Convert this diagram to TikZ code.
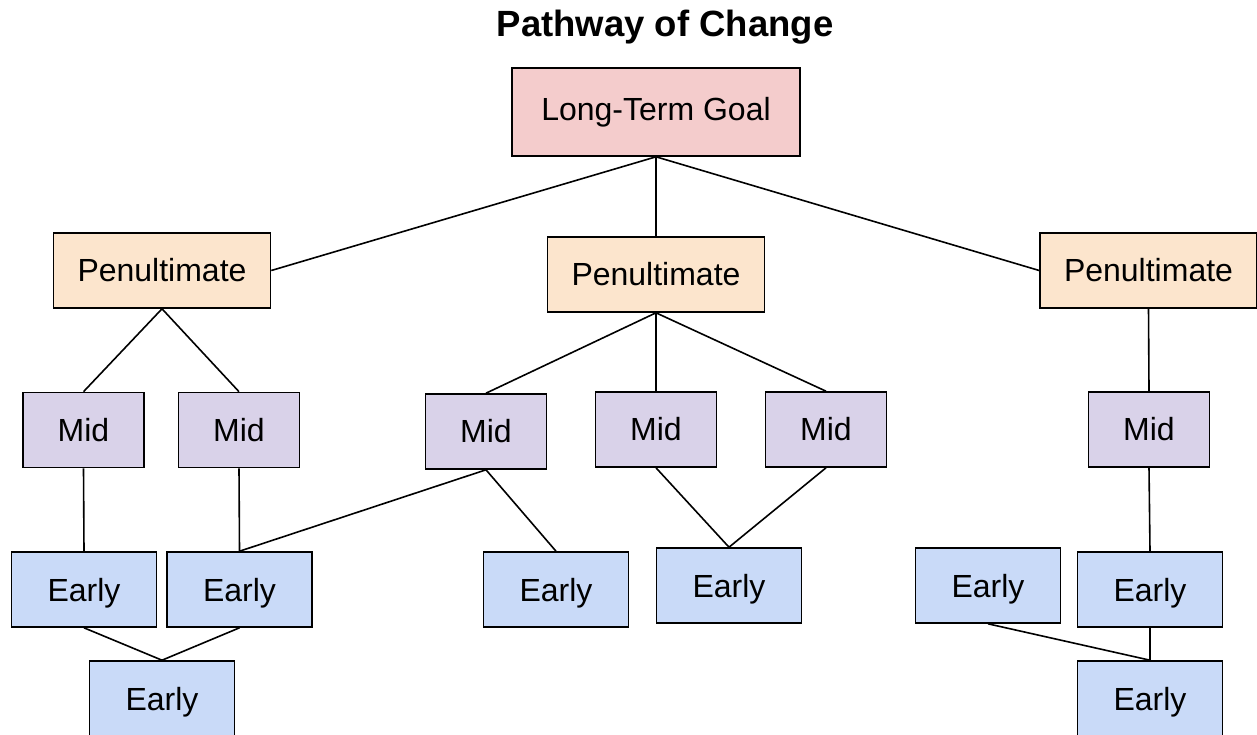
\documentclass[tikz,border=0pt]{standalone}
\usepackage{fontspec}
\setmainfont{Liberation Sans}
\definecolor{goalc}{HTML}{F4CCCC}
\definecolor{penc}{HTML}{FCE5CD}
\definecolor{midc}{HTML}{D9D2E9}
\definecolor{earlyc}{HTML}{C9DAF8}
\begin{document}
\begin{tikzpicture}[x=1pt,y=-1pt,
  box/.style={draw=black,line width=1.6pt,inner sep=0pt,font=\fontsize{32}{38}\selectfont},
  goalbox/.style={box,fill=goalc,minimum width=288pt,minimum height=88pt},
  penbox/.style={box,fill=penc,minimum width=217pt,minimum height=75pt},
  midbox/.style={box,fill=midc,minimum width=121pt,minimum height=75pt},
  earlybox/.style={box,fill=earlyc,minimum width=145pt,minimum height=75pt,text depth=0pt},
  link/.style={draw=black,line width=1.6pt}]
\useasboundingbox (0,0) rectangle (1257,734);
\clip (0,0) rectangle (1257,734);
\fill[white] (0,0) rectangle (1257,734);
\node[font=\bfseries\fontsize{36.5}{44}\selectfont] (title) at (665,27.5) {Pathway of Change};
\node[goalbox] (goal) at (656,112) {Long-Term Goal};
\node[penbox] (pen1) at (162,270.5) {Penultimate};
\node[penbox] (pen2) at (656,274.5) {Penultimate};
\node[penbox] (pen3) at (1148.5,270.5) {Penultimate};
\node[midbox] (mid1) at (83.5,430) {Mid};
\node[midbox] (mid2) at (239,430) {Mid};
\node[midbox] (mid3) at (486,431.5) {Mid};
\node[midbox] (mid4) at (656,429.5) {Mid};
\node[midbox] (mid5) at (826,429.5) {Mid};
\node[midbox] (mid6) at (1149,429.5) {Mid};
\node[earlybox] (e1) at (84,589.5) {Early};
\node[earlybox] (e2) at (239.5,589.5) {Early};
\node[earlybox] (e3) at (556,589.5) {Early};
\node[earlybox] (e4) at (729,585.5) {Early};
\node[earlybox] (e5) at (988,585.5) {Early};
\node[earlybox] (e6) at (1150,589.5) {Early};
\node[earlybox] (eb1) at (162,698.5) {Early};
\node[earlybox] (eb2) at (1150,698.5) {Early};
\path[link] (goal.south) -- (pen1.east);
\path[link] (goal.south) -- (pen2.north);
\path[link] (goal.south) -- (pen3.west);
\path[link] (pen1.south) -- (mid1.north);
\path[link] (pen1.south) -- (mid2.north);
\path[link] (pen2.south) -- (mid3.north);
\path[link] (pen2.south) -- (mid4.north);
\path[link] (pen2.south) -- (mid5.north);
\path[link] (pen3.south) -- (mid6.north);
\path[link] (mid1.south) -- (e1.north);
\path[link] (mid2.south) -- (e2.north);
\path[link] (mid3.south) -- (e2.north);
\path[link] (mid3.south) -- (e3.north);
\path[link] (mid4.south) -- (e4.north);
\path[link] (mid5.south) -- (e4.north);
\path[link] (mid6.south) -- (e6.north);
\path[link] (e1.south) -- (eb1.north);
\path[link] (e2.south) -- (eb1.north);
\path[link] (e5.south) -- (eb2.north);
\path[link] (e6.south) -- (eb2.north);
\end{tikzpicture}
\end{document}
